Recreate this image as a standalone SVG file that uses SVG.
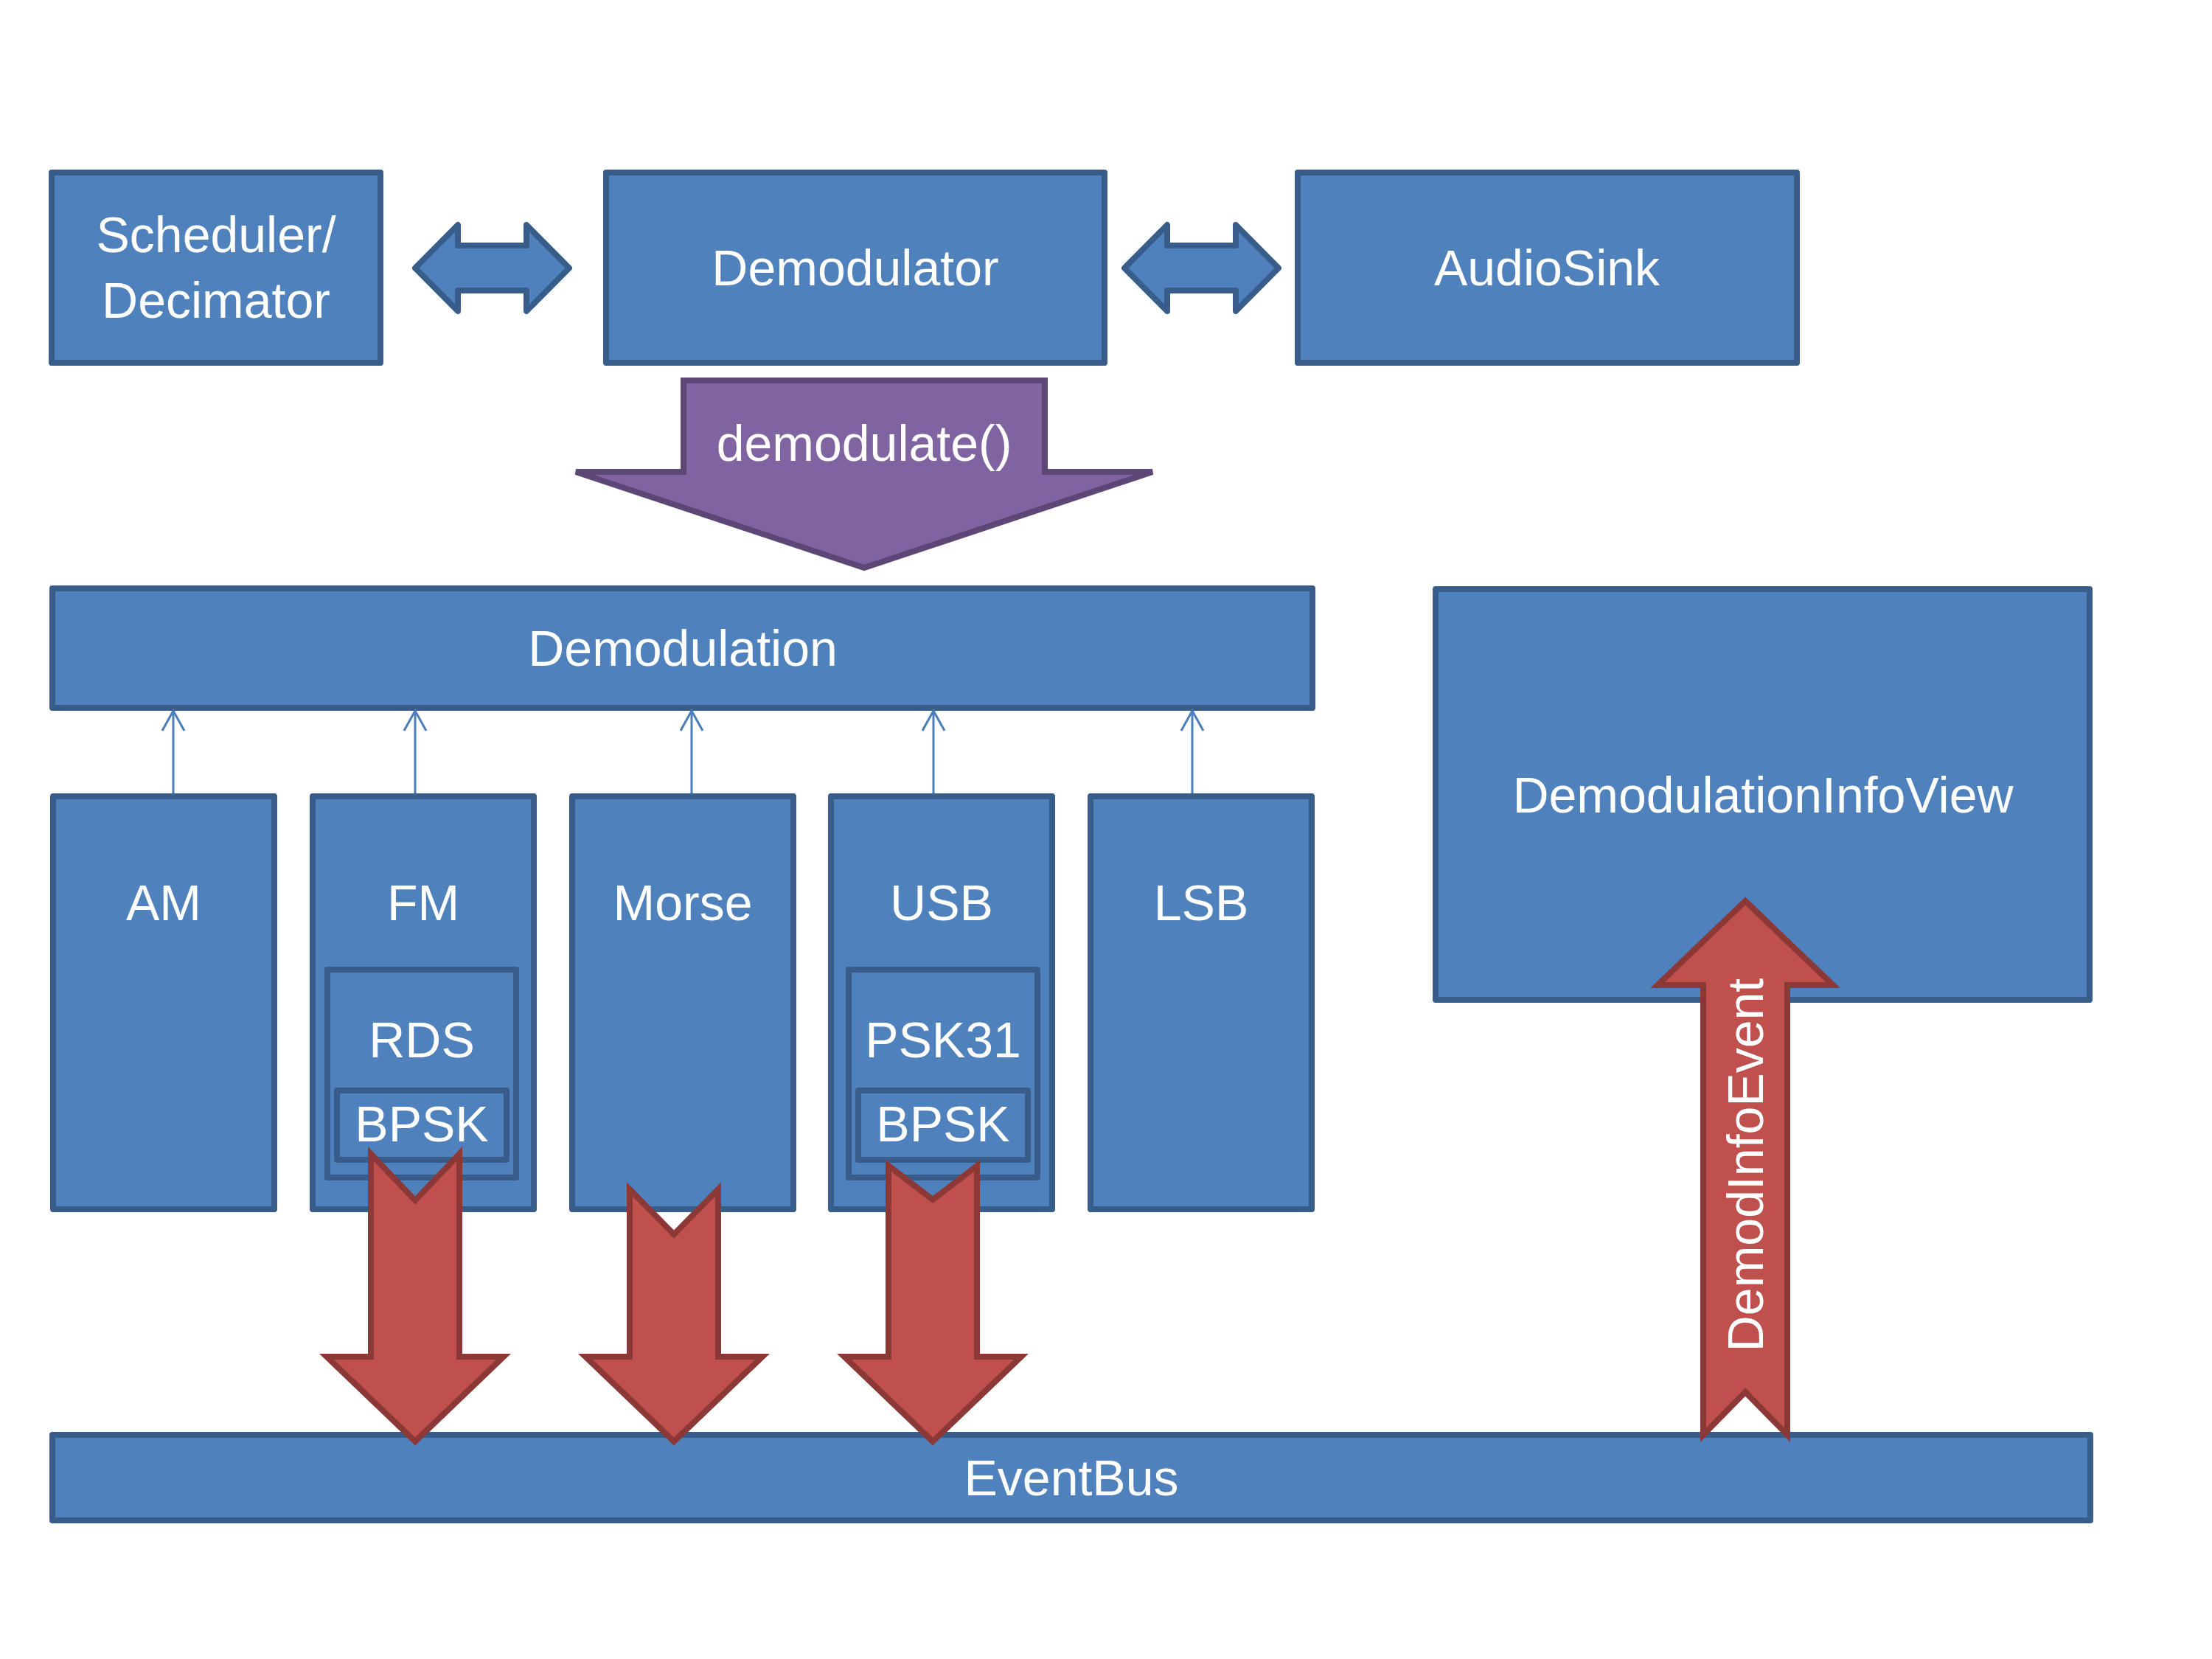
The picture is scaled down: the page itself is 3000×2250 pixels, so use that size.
<svg xmlns="http://www.w3.org/2000/svg" width="3000" height="2250" viewBox="0 0 3000 2250">
  <style>
    .box { fill: #4F81BD; stroke: #385D8A; stroke-width: 8; stroke-linejoin: round; }
    .red { fill: #C0504D; stroke: #8C3836; stroke-width: 8; stroke-linejoin: miter; }
    .purple { fill: #8064A2; stroke: #5C4776; stroke-width: 8; stroke-linejoin: miter; }
    .conn { stroke: #4A7EBB; stroke-width: 3; fill: none; }
    .lbl { font-family: "Liberation Sans", Arial, sans-serif; font-size: 68px; fill: #FFFFFF; text-anchor: middle; }
  </style>
  <defs>
    <marker id="openArrow" markerUnits="userSpaceOnUse" viewBox="0 0 32 34" markerWidth="32" markerHeight="34" refX="29" refY="17" orient="auto">
      <path d="M2,2 L29,17 L2,32" fill="none" stroke="#4A7EBB" stroke-width="3"/>
    </marker>
  </defs>
  <rect x="0" y="0" width="3000" height="2250" fill="#FFFFFF"/>

  <g id="scheduler">
    <rect class="box" x="70" y="234" width="446" height="258"/>
    <text class="lbl" x="293" y="342">Scheduler/</text>
    <text class="lbl" x="293" y="431">Decimator</text>
  </g>
  <g id="demodulator">
    <rect class="box" x="822" y="234" width="676" height="258"/>
    <text class="lbl" x="1160" y="387">Demodulator</text>
  </g>
  <g id="audiosink">
    <rect class="box" x="1760" y="234" width="677" height="258"/>
    <text class="lbl" x="2098" y="387">AudioSink</text>
  </g>
  <g id="demodulation">
    <rect class="box" x="71" y="798" width="1709" height="162"/>
    <text class="lbl" x="926" y="903">Demodulation</text>
  </g>
  <g id="am">
    <rect class="box" x="72" y="1080" width="300" height="560"/>
    <text class="lbl" x="222" y="1248">AM</text>
  </g>
  <g id="fm">
    <rect class="box" x="424" y="1080" width="300" height="560"/>
    <text class="lbl" x="574" y="1248">FM</text>
  </g>
  <g id="rds">
    <rect class="box" x="444" y="1315" width="256" height="282"/>
    <text class="lbl" x="572" y="1434">RDS</text>
  </g>
  <g id="fm-bpsk">
    <rect class="box" x="457" y="1479" width="230" height="94"/>
    <text class="lbl" x="572" y="1548">BPSK</text>
  </g>
  <g id="morse">
    <rect class="box" x="776" y="1080" width="300" height="560"/>
    <text class="lbl" x="926" y="1248">Morse</text>
  </g>
  <g id="usb">
    <rect class="box" x="1127" y="1080" width="300" height="560"/>
    <text class="lbl" x="1277" y="1248">USB</text>
  </g>
  <g id="psk31">
    <rect class="box" x="1151" y="1315" width="256" height="282"/>
    <text class="lbl" x="1279" y="1434">PSK31</text>
  </g>
  <g id="usb-bpsk">
    <rect class="box" x="1164" y="1479" width="230" height="94"/>
    <text class="lbl" x="1279" y="1548">BPSK</text>
  </g>
  <g id="lsb">
    <rect class="box" x="1479" y="1080" width="300" height="560"/>
    <text class="lbl" x="1629" y="1248">LSB</text>
  </g>
  <g id="demodulationinfoview">
    <rect class="box" x="1947" y="799" width="887" height="557"/>
    <text class="lbl" x="2391" y="1102">DemodulationInfoView</text>
  </g>
  <g id="eventbus">
    <rect class="box" x="71" y="1946" width="2764" height="116"/>
    <text class="lbl" x="1453" y="2028">EventBus</text>
  </g>

  <g id="connectors">
    <path class="box" d="M563,363.5 L621,305 L621,333 L714,333 L714,305 L772,363.5 L714,422 L714,394 L621,394 L621,422 Z"/>
    <path class="box" d="M1525,363.5 L1583,305 L1583,333 L1676,333 L1676,305 L1734,363.5 L1676,422 L1676,394 L1583,394 L1583,422 Z"/>
    <g id="demodulate-call">
      <path class="purple" d="M927,516 L1417,516 L1417,640 L1563,640 L1172,770 L781,640 L927,640 Z"/>
      <text class="lbl" x="1172" y="625">demodulate()</text>
    </g>
    <line class="conn" x1="235" y1="1076" x2="235" y2="964" marker-end="url(#openArrow)"/>
    <line class="conn" x1="563" y1="1076" x2="563" y2="964" marker-end="url(#openArrow)"/>
    <line class="conn" x1="938" y1="1076" x2="938" y2="964" marker-end="url(#openArrow)"/>
    <line class="conn" x1="1266" y1="1076" x2="1266" y2="964" marker-end="url(#openArrow)"/>
    <line class="conn" x1="1617" y1="1076" x2="1617" y2="964" marker-end="url(#openArrow)"/>
    <path class="red" d="M503,1565 L563,1628 L623,1565 L623,1840 L683,1840 L563,1955 L443,1840 L503,1840 Z"/>
    <path class="red" d="M854,1613 L914,1674 L974,1613 L974,1840 L1034,1840 L914,1955 L794,1840 L854,1840 Z"/>
    <path class="red" d="M1205,1581 L1265,1627 L1325,1581 L1325,1840 L1385,1840 L1265,1955 L1145,1840 L1205,1840 Z"/>
    <g id="demodinfoevent">
      <path class="red" d="M2367,1222 L2486,1336 L2424,1336 L2424,1946 L2367,1888 L2310,1946 L2310,1336 L2248,1336 Z"/>
      <text class="lbl" transform="translate(2391,1580) rotate(-90)" x="0" y="0">DemodInfoEvent</text>
    </g>
  </g>
</svg>
